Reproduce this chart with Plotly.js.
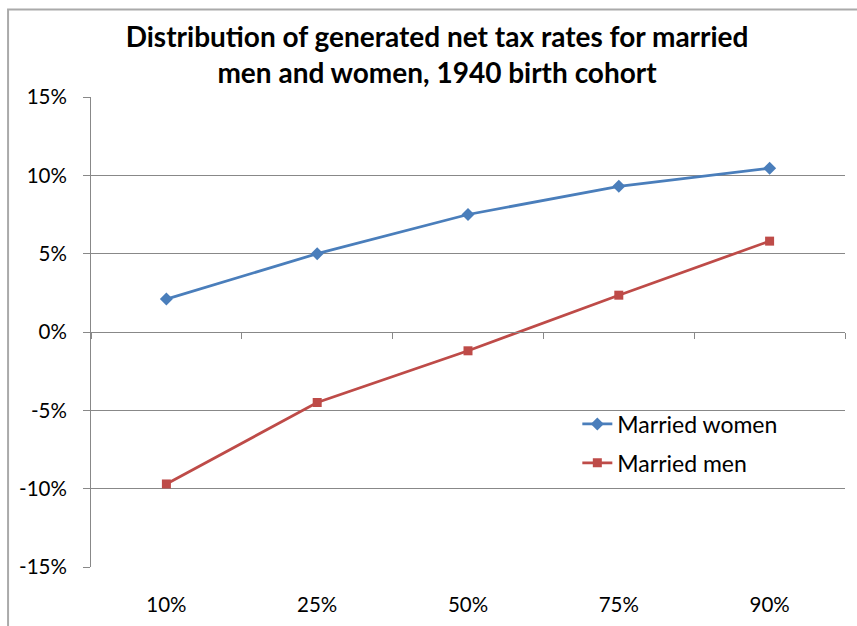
<!DOCTYPE html>
<html><head><meta charset="utf-8">
<script src="https://cdn.plot.ly/plotly-3.0.1.min.js"></script>
<style>html,body{margin:0;padding:0;background:#fff}#chart{width:857px;height:626px}</style>
</head><body><div id="chart"></div>
<script>
const categories = ["10%", "25%", "50%", "75%", "90%"];
const marriedWomen = [2.1, 5.0, 7.5, 9.3, 10.45];
const marriedMen = [-9.7, -4.5, -1.2, 2.35, 5.8];
const yTickVals = [-15, -10, -5, 0, 5, 10, 15];
const yTickText = ["-15%", "-10%", "-5%", "0%", "5%", "10%", "15%"];

const font = "Lato, 'Open Sans', sans-serif";
const grid = "#888888";

const traces = [
  {x: categories, y: marriedWomen, name: "Married women", type: "scatter", mode: "lines+markers",
   legendgroup: "w",
   line: {color: "#4A7EBB", width: 2.75}, marker: {symbol: "diamond", size: 10, color: "#4A7EBB"},
   xaxis: "x", yaxis: "y"},
  {x: categories, y: marriedMen, name: "Married men", type: "scatter", mode: "lines+markers",
   legendgroup: "m",
   line: {color: "#BE4B48", width: 2.75}, marker: {symbol: "square", size: 9, color: "#BE4B48"},
   xaxis: "x2", yaxis: "y"}
];

const layout = {
  width: 857, height: 626,
  margin: {l: 91, r: 12, t: 97, b: 59},
  paper_bgcolor: "#fff", plot_bgcolor: "#fff",
  font: {family: font, color: "#000"},
  title: {text: "<b>Distribution of generated net tax rates for married<br>men and women, 1940 birth cohort</b>",
          x: 0.51, xanchor: "center", y: 0.925, yanchor: "top", font: {size: 28, family: font}},
  xaxis: {type: "category", range: [-0.5, 4.5], showgrid: false, zeroline: false, showline: false,
          ticks: "outside", ticklen: 19, tickcolor: "rgba(0,0,0,0)", tickfont: {size: 20.5}, anchor: "y"},
  xaxis2: {type: "category", range: [-0.5, 4.5], overlaying: "x", anchor: "free", position: 0.5,
           showgrid: false, zeroline: false, showline: true, linecolor: grid, linewidth: 1,
           ticks: "outside", tickson: "boundaries", ticklen: 6, tickcolor: grid, showticklabels: false},
  yaxis: {range: [-15, 15], tickvals: yTickVals, ticktext: yTickText, showgrid: true, gridcolor: grid,
          zeroline: false, showline: true, linecolor: grid, ticks: "outside", ticklen: 7, tickcolor: grid,
          ticklabelstandoff: 12, tickfont: {size: 20.5}},
  showlegend: true,
  legend: {x: 0.645, y: 0.35, xanchor: "left", yanchor: "top", bgcolor: "rgba(0,0,0,0)",
           font: {size: 23}, tracegroupgap: 6},
  shapes: [
    {type: "rect", xref: "paper", yref: "paper", x0: -0.11, x1: 1.1, y0: -0.3, y1: 1.186,
     line: {color: "#aaaaaa", width: 2}, fillcolor: "rgba(0,0,0,0)", layer: "below"}
  ]
};
Plotly.newPlot("chart", traces, layout, {displayModeBar: false});
</script></body></html>
